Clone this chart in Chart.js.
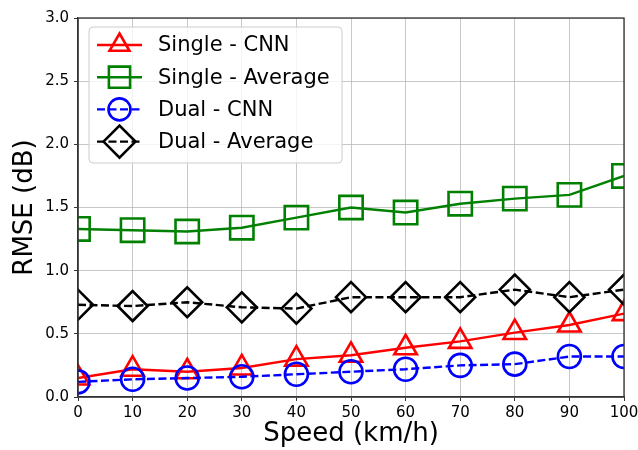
<!DOCTYPE html>
<html>
<head>
<meta charset="utf-8">
<script src="https://cdn.jsdelivr.net/npm/chart.js@4/dist/chart.umd.min.js"></script>
<style>
  html, body { margin: 0; padding: 0; background: #fff; }
  #wrap { width: 638px; height: 450px; }
</style>
</head>
<body>
<div id="wrap"><canvas id="rmse-chart" width="638" height="450"></canvas></div>
<script>
// speed (km/h)
var speeds = [0, 10, 20, 30, 40, 50, 60, 70, 80, 90, 100];
var singleCnn = [0.15, 0.22, 0.20, 0.23, 0.30, 0.33, 0.39, 0.44, 0.51, 0.57, 0.66];
var singleAvg = [1.33, 1.32, 1.31, 1.34, 1.42, 1.50, 1.46, 1.53, 1.57, 1.60, 1.75];
var dualCnn = [0.12, 0.14, 0.15, 0.16, 0.18, 0.20, 0.22, 0.25, 0.26, 0.32, 0.32];
var dualAvg = [0.73, 0.72, 0.75, 0.71, 0.70, 0.79, 0.79, 0.79, 0.85, 0.79, 0.85];
var seriesNames = ["Single - CNN", "Single - Average", "Dual - CNN", "Dual - Average"];
var yTicks = [0, 0.5, 1.0, 1.5, 2.0, 2.5, 3.0];

var FONT = "'DejaVu Sans', sans-serif";

function pts(vals) {
    return speeds.map(function(s, i) { return {x: s, y: vals[i]}; });
}

function makeSet(name, vals, color, style, radius, dash, order) {
    return {
        label: name,
        data: pts(vals),
        borderColor: color,
        backgroundColor: color,
        borderWidth: 2.4,
        borderDash: dash,
        tension: 0,
        pointStyle: style,
        pointRadius: radius,
        pointHoverRadius: radius,
        pointBorderWidth: 2.6,
        pointBorderColor: color,
        pointBackgroundColor: 'rgba(0,0,0,0)',
        clip: 0,
        order: order
    };
}

var datasets = [
    makeSet(seriesNames[0], singleCnn, '#ff0000', 'triangle', 13, [], 4),
    makeSet(seriesNames[1], singleAvg, '#008000', 'rect', 16.5, [], 3),
    makeSet(seriesNames[2], dualCnn, '#0000ff', 'circle', 11.5, [8, 3.5], 2),
    makeSet(seriesNames[3], dualAvg, '#000000', 'rectRot', 15, [8, 3.5], 1)
];

// legend sizes are a bit smaller than the plot markers
var legendRadius = {triangle: 11.5, rect: 15, circle: 11, rectRot: 16};

// frame round the plot, drawn over the data like matplotlib spines
var framePlugin = {
    id: 'frame',
    afterDatasetsDraw: function(chart) {
        var a = chart.chartArea, ctx = chart.ctx;
        ctx.save();
        ctx.strokeStyle = '#333';
        ctx.lineWidth = 1.3;
        ctx.strokeRect(a.left, a.top, a.right - a.left, a.bottom - a.top);
        ctx.restore();
    }
};

// legend box with line + marker, inside the plot
var boxLegend = {
    id: 'boxLegend',
    afterDraw: function(chart) {
        var ctx = chart.ctx;
        var bx = 89, by = 27, bw = 253, bh = 136;
        ctx.save();
        ctx.beginPath();
        if (ctx.roundRect) ctx.roundRect(bx, by, bw, bh, 4); else ctx.rect(bx, by, bw, bh);
        ctx.fillStyle = 'rgba(255,255,255,0.8)';
        ctx.fill();
        ctx.strokeStyle = '#cccccc';
        ctx.lineWidth = 1;
        ctx.stroke();

        chart.data.datasets.forEach(function(ds, i) {
            var y = 45 + i * 32.2;
            ctx.save();
            ctx.strokeStyle = ds.borderColor;
            ctx.lineWidth = 2.4;
            ctx.setLineDash(ds.borderDash || []);
            ctx.beginPath();
            ctx.moveTo(97, y);
            ctx.lineTo(142, y);
            ctx.stroke();
            ctx.restore();

            ctx.save();
            ctx.strokeStyle = ds.borderColor;
            ctx.fillStyle = 'rgba(0,0,0,0)';
            ctx.lineWidth = 2.6;
            ctx.setLineDash([]);
            Chart.helpers.drawPoint(ctx, {
                pointStyle: ds.pointStyle,
                radius: legendRadius[ds.pointStyle],
                rotation: 0,
                borderWidth: 2.6
            }, 119.5, y);
            ctx.restore();

            ctx.fillStyle = '#000';
            ctx.font = '21px ' + FONT;
            ctx.textBaseline = 'middle';
            ctx.textAlign = 'left';
            ctx.fillText(ds.label, 158, y + 1);
        });
        ctx.restore();
    }
};

var ctx = document.getElementById('rmse-chart').getContext('2d');
var rmseChart = new Chart(ctx, {
    type: 'line',
    data: { datasets: datasets },
    options: {
        responsive: false,
        animation: false,
        events: [],
        layout: {
            autoPadding: false,
            padding: { left: 0, right: 0, top: 18, bottom: 0 }
        },
        plugins: {
            legend: { display: false },
            tooltip: { enabled: false }
        },
        scales: {
            x: {
                type: 'linear',
                min: 0,
                max: 100,
                afterFit: function(scale) {
                    scale.height = 53;
                    scale.paddingRight = 14;
                    scale.paddingLeft = 0;
                },
                afterBuildTicks: function(scale) {
                    scale.ticks = speeds.map(function(v) { return {value: v}; });
                },
                ticks: {
                    color: '#000',
                    font: { family: FONT, size: 15 },
                    padding: 3,
                    maxRotation: 0,
                    autoSkip: false
                },
                grid: {
                    color: 'rgba(176,176,176,0.7)',
                    lineWidth: 1,
                    tickColor: '#333',
                    tickLength: 4
                },
                border: { color: '#333', width: 1.3 },
                title: {
                    display: true,
                    text: 'Speed (km/h)',
                    color: '#000',
                    font: { family: FONT, size: 26 },
                    padding: { top: 0, bottom: 0 }
                }
            },
            y: {
                min: 0,
                max: 3,
                afterFit: function(scale) { scale.width = 78; },
                afterBuildTicks: function(scale) {
                    scale.ticks = yTicks.map(function(v) { return {value: v}; });
                },
                ticks: {
                    color: '#000',
                    font: { family: FONT, size: 15 },
                    padding: 5,
                    callback: function(v) { return Number(v).toFixed(1); }
                },
                grid: {
                    color: 'rgba(176,176,176,0.7)',
                    lineWidth: 1,
                    tickColor: '#333',
                    tickLength: 4
                },
                border: { color: '#333', width: 1.3 },
                title: {
                    display: true,
                    text: 'RMSE (dB)',
                    color: '#000',
                    font: { family: FONT, size: 26 },
                    padding: { top: 10, bottom: 0 }
                }
            }
        }
    },
    plugins: [framePlugin, boxLegend]
});
</script>
</body>
</html>
